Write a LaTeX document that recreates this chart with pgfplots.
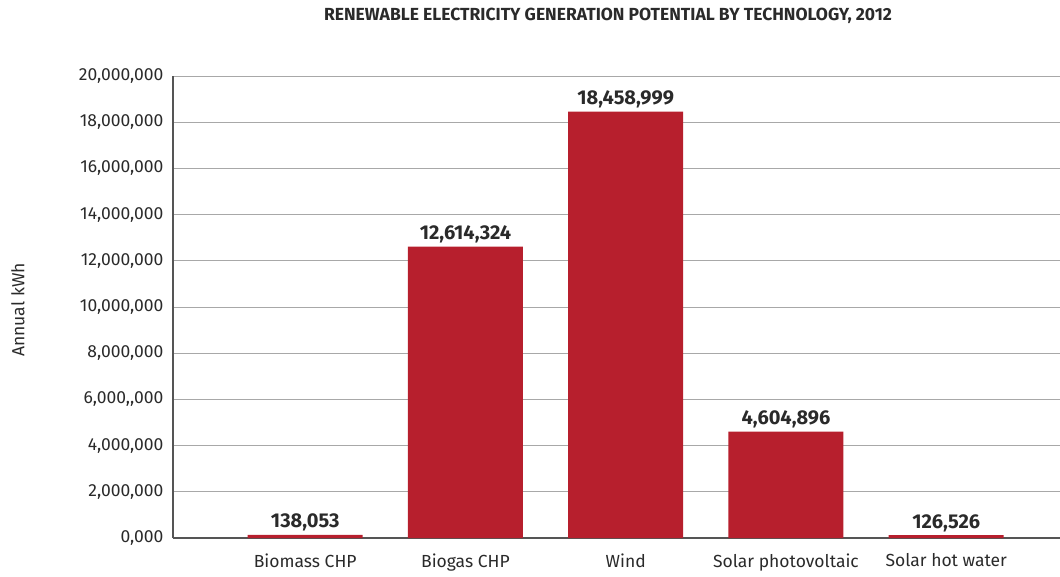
\documentclass[border=0pt]{standalone}
\usepackage{pgfplots}
\pgfplotsset{compat=1.18}
\usepackage{fontspec}
\setmainfont{Fira Sans}
\definecolor{barred}{HTML}{B71F2D}
\definecolor{gridgray}{HTML}{A8A8A8}
\definecolor{axgray}{HTML}{555555}
\definecolor{txt}{HTML}{2A2A2A}
\begin{document}
\begin{tikzpicture}
\begin{axis}[
  scale only axis,
  width=887pt, height=462pt,
  ymin=0, ymax=20000000,
  xmin=-0.825, xmax=4.71,
  ytick={0,2000000,4000000,6000000,8000000,10000000,12000000,14000000,16000000,18000000,20000000},
  yticklabels={{0,000},{2,000,000},{4,000,000},{6,000,\kern0pt,000},{8,000,000},{10,000,000},{12,000,000},{14,000,000},{16,000,000},{18,000,000},{20,000,000}},
  xtick={0,1,2,3,4},
  xticklabels={Biomass CHP,Biogas CHP,Wind,Solar photovoltaic,Solar hot water},
  scaled y ticks=false,
  axis lines*=left,
  axis line style={axgray, line width=1.2pt},
  ymajorgrids,
  grid style={gridgray, line width=0.9pt},
  major tick length=0pt,
  tick label style={font=\fontsize{17.5}{19}\selectfont, text=txt},
  yticklabel style={xshift=-6pt},
  xticklabel style={yshift=-12pt},
  ybar, bar width=115pt,
  nodes near coords,
  every node near coord/.append style={font=\fontsize{20}{22}\selectfont\bfseries, text=txt, yshift=0pt},
  /pgf/number format/.cd, fixed, precision=0, 1000 sep={,}, assume math mode=true,
]
\addplot[fill=barred, draw=none] coordinates {
  (0,138053) (1,12614324) (2,18458999) (3,4604896) (4,126526)
};
\end{axis}
\node[font=\fontsize{17.5}{19}\selectfont\bfseries, text=txt] at (435pt,522pt) {RENEWABLE ELECTRICITY GENERATION POTENTIAL BY TECHNOLOGY, 2012};
\node[font=\fontsize{17.5}{19}\selectfont, text=txt, rotate=90] at (-155pt,228pt) {Annual kWh};
\pgfresetboundingbox
\path (-173pt,-38pt) rectangle (887pt,538pt);
\end{tikzpicture}
\end{document}
